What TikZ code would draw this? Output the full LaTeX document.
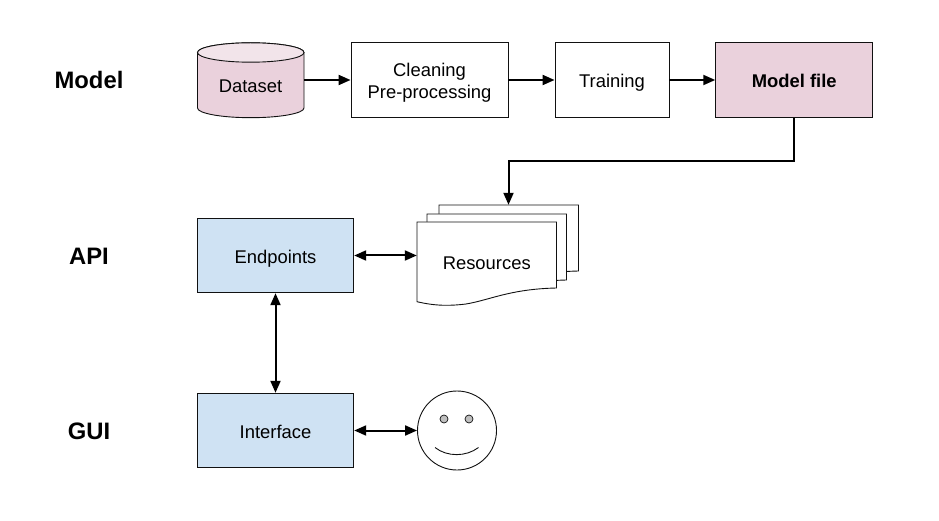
\documentclass[tikz,border=0pt]{standalone}
\usepackage{fontspec}
\setmainfont{Liberation Sans}
\usetikzlibrary{arrows.meta}
\definecolor{pinkfill}{HTML}{EAD1DC}
\definecolor{pinktop}{HTML}{F2E4EA}
\definecolor{bluefill}{HTML}{CFE2F3}
\definecolor{inkline}{HTML}{111111}
\newcommand{\sheetoutline}{(417,222) -- (556.5,222) -- (556.5,288) .. controls (510,289) and (490,300) .. (466,304) .. controls (450,306) and (435,306) .. (417,301.7) -- cycle}
\tikzset{
  boxnode/.style={draw=inkline,line width=0.9pt,minimum width=#1,minimum height=74.5pt,inner sep=0pt,align=center,font=\fontsize{18.4}{22.3}\selectfont},
  oneline/.style={text height=15.5pt,text depth=0pt},
  sidelabel/.style={font=\fontsize{23.8}{28}\selectfont\bfseries,inner sep=0pt},
  plainlabel/.style={font=\fontsize{18.4}{22.3}\selectfont,inner sep=0pt,text height=15.5pt,text depth=0pt},
  sheetline/.style={draw=inkline,line width=0.9pt,fill=white},
  ghostnode/.style={inner sep=0pt,minimum width=#1},
  oneway/.style={line width=2pt,-{Triangle[length=12pt,width=10pt]}},
  twoway/.style={line width=2pt,{Triangle[length=12pt,width=10pt]}-{Triangle[length=12pt,width=10pt]}}
}
\begin{document}
\begin{tikzpicture}[x=1pt,y=-1pt]
\useasboundingbox (0,0) rectangle (939,521);
% side labels
\node[sidelabel] (lmodel) at (89,80) {Model};
\node[sidelabel] (lapi) at (89,256) {API};
\node[sidelabel] (lgui) at (89,431) {GUI};
% cylinder
\filldraw[fill=pinkfill,draw=inkline,line width=0.9pt] (197.5,52.5) -- (197.5,108) arc[start angle=180,end angle=0,x radius=53.25,y radius=9.7] -- (304,52.5) arc[start angle=0,end angle=-180,x radius=53.25,y radius=9.7] -- cycle;
\filldraw[fill=pinktop,draw=inkline,line width=0.9pt] (250.75,52.5) ellipse[x radius=53.25,y radius=9.7];
\node[ghostnode=106.5pt,minimum height=75pt] (dataset) at (250.75,80) {};
\node[plainlabel] (datasettext) at (250.5,85) {Dataset};
% top boxes
\node[boxnode=157pt] (clean) at (429.5,80) {\rule{0pt}{19.5pt}Cleaning\\Pre-processing};
\node[boxnode=114pt,oneline] (train) at (612,80) {Training};
\node[boxnode=157pt,oneline,fill=pinkfill,font=\fontsize{18.4}{22.3}\selectfont\bfseries] (modelfile) at (794.2,80) {Model file};
% api / gui boxes
\node[boxnode=156.5pt,oneline,fill=bluefill] (endpoints) at (275.5,255.5) {Endpoints};
\node[boxnode=156.5pt,oneline,fill=bluefill] (interface) at (275.5,430.5) {Interface};
% stacked sheets
\begin{scope}[shift={(22,-17)}]
\path[sheetline] \sheetoutline;
\end{scope}
\begin{scope}[shift={(10,-8)}]
\path[sheetline] \sheetoutline;
\end{scope}
\path[sheetline] \sheetoutline;
\node[ghostnode=139pt,minimum height=66pt] (resback) at (508.5,238) {};
\node[ghostnode=139.5pt,minimum height=80pt,oneline,font=\fontsize{18.4}{22.3}\selectfont] (resfront) at (486.75,261.5) {Resources};
% smiley
\node[circle,draw=inkline,line width=0.9pt,minimum size=79pt,inner sep=0pt] (face) at (457,430.5) {};
\node[circle,draw=inkline,fill=black!25,line width=0.7pt,minimum size=8pt,inner sep=0pt] (eyeleft) at (444,419) {};
\node[circle,draw=inkline,fill=black!25,line width=0.7pt,minimum size=8pt,inner sep=0pt] (eyeright) at (469,419) {};
\draw[inkline,line width=0.9pt] (435,447.5) .. controls (447,457) and (466,457) .. (478.5,447.5);
% connectors
\coordinate (bend) at (508.5,161);
\draw[oneway] (dataset.east) -- (clean.west);
\draw[oneway] (clean.east) -- (train.west);
\draw[oneway] (train.east) -- (modelfile.west);
\draw[oneway] (modelfile.south) |- (bend) -- (resback.north);
\draw[twoway] (endpoints.east) -- (endpoints.east -| resfront.west);
\draw[twoway] (endpoints.south) -- (interface.north);
\draw[twoway] (interface.east) -- (face.west);
\end{tikzpicture}
\end{document}
